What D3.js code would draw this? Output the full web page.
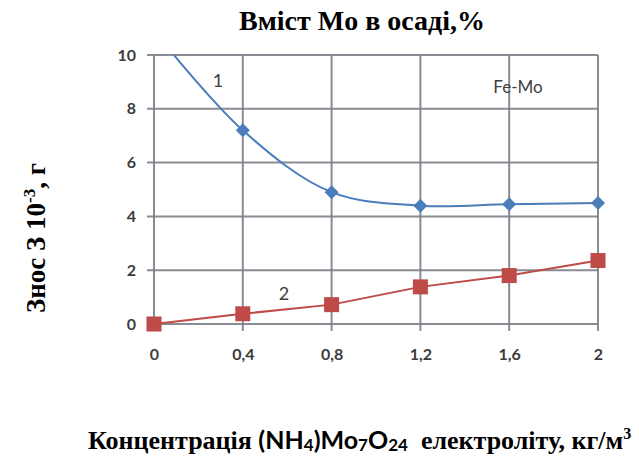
<!DOCTYPE html>
<html>
<head>
<meta charset="utf-8">
<script src="https://cdn.jsdelivr.net/npm/d3@7"></script>
<style>
  body { margin: 0; background: #fff; }
  svg { display: block; }
</style>
</head>
<body>
<svg id="chart" width="639" height="461"></svg>
<script>
// Concentration of (NH4)Mo7O24 in the electrolyte, kg/m3
const concentration = [0, 0.4, 0.8, 1.2, 1.6, 2];
// Curve 1: Fe-Mo wear, 10^-3 g
const wear1 = [10.9, 7.2, 4.9, 4.4, 4.45, 4.5];
// Curve 2: Mo content in the deposit, %
const wear2 = [0, 0.38, 0.72, 1.38, 1.8, 2.36];
const xTicks = [0, 0.4, 0.8, 1.2, 1.6, 2];
const yTicks = [0, 2, 4, 6, 8, 10];

(function () {
const svg = d3.select("#chart");
const pLeft = 154, pRight = 598, pTop = 55, pBottom = 324;
const sans = "Lato, Carlito, 'Open Sans', sans-serif";
const serif = "'Liberation Serif', 'Times New Roman', serif";
const gridColor = "#7c7f86";

const x = d3.scaleLinear().domain([0, 2]).range([pLeft, pRight]);
const y = d3.scaleLinear().domain([0, 10]).range([pBottom, pTop]);
const fmt = d => String(d).replace(".", ",");

svg.append("defs").append("clipPath").attr("id", "plotClip")
  .append("rect").attr("x", pLeft - 12).attr("y", pTop)
  .attr("width", pRight - pLeft + 24).attr("height", pBottom - pTop + 12);

// gridlines with short outward ticks, drawn as one path per direction
const vPath = d3.path();
xTicks.forEach(t => { vPath.moveTo(x(t), pTop); vPath.lineTo(x(t), pBottom + 7); });
const hPath = d3.path();
yTicks.forEach(t => { hPath.moveTo(pLeft - 7, y(t)); hPath.lineTo(pRight, y(t)); });
svg.append("path").attr("d", vPath.toString())
  .attr("fill", "none").attr("stroke", gridColor).attr("stroke-width", 2).attr("opacity", 0.9);
svg.append("path").attr("d", hPath.toString())
  .attr("fill", "none").attr("stroke", gridColor).attr("stroke-width", 2).attr("opacity", 0.9);

// tick labels
const xAxis = svg.append("g").attr("transform", `translate(0,${pBottom})`)
  .call(d3.axisBottom(x).tickValues(xTicks).tickFormat(fmt).tickSize(0).tickPadding(25));
const yAxis = svg.append("g").attr("transform", `translate(${pLeft},0)`)
  .call(d3.axisLeft(y).tickValues(yTicks).tickFormat(d => d).tickSize(0).tickPadding(18));
[xAxis, yAxis].forEach(a => {
  a.select(".domain").remove();
  a.selectAll("text").attr("font-family", sans)
    .attr("font-size", 16).attr("font-weight", "bold").attr("fill", "#3c3c3c");
});

const plot = svg.append("g").attr("clip-path", "url(#plotClip)");

// curve 1 (smoothed)
const pts1 = concentration.map((c, i) => [c, wear1[i]]);
plot.append("path").datum(pts1)
  .attr("fill", "none").attr("stroke", "#4a7ebb").attr("stroke-width", 2)
  .attr("d", d3.line().x(d => x(d[0])).y(d => y(d[1])).curve(d3.curveCatmullRom.alpha(0.5)));
plot.selectAll(".dia").data(pts1.slice(1)).enter().append("path")
  .attr("class", "dia")
  .attr("transform", d => `translate(${x(d[0])},${y(d[1])})`)
  .attr("d", "M0,-7L7,0L0,7L-7,0Z").attr("fill", "#4a7ebb");

// curve 2
const pts2 = concentration.map((c, i) => [c, wear2[i]]);
plot.append("path").datum(pts2)
  .attr("fill", "none").attr("stroke", "#be4b48").attr("stroke-width", 2)
  .attr("d", d3.line().x(d => x(d[0])).y(d => y(d[1])));
plot.selectAll(".sq").data(pts2).enter().append("rect")
  .attr("class", "sq")
  .attr("x", d => x(d[0]) - 7.5).attr("y", d => y(d[1]) - 7.5)
  .attr("width", 15).attr("height", 15).attr("fill", "#be4b48");

// inline labels
const lab = svg.append("g").attr("font-family", sans).attr("fill", "#404040");
lab.append("text").attr("x", 218).attr("y", 87).attr("text-anchor", "middle").attr("font-size", 18).text("1");
lab.append("text").attr("x", 284).attr("y", 300).attr("text-anchor", "middle").attr("font-size", 18).text("2");
lab.append("text").attr("x", 518).attr("y", 93).attr("text-anchor", "middle").attr("font-size", 17).text("Fe-Mo");

// title
svg.append("text").attr("x", 362).attr("y", 30).attr("text-anchor", "middle")
  .attr("font-family", serif).attr("font-weight", "bold").attr("font-size", 28)
  .text("Вміст Mo в осаді,%");

// y title
const yt = svg.append("text").attr("transform", "translate(45,238) rotate(-90)").attr("text-anchor", "middle")
  .attr("font-family", serif).attr("font-weight", "bold").attr("font-size", 27);
yt.append("tspan").text("Знос З 10");
yt.append("tspan").attr("font-size", 17).attr("dy", -10).text("-3");
yt.append("tspan").attr("dy", 10).text(", г");

// x title
const xt = svg.append("text").attr("x", 88).attr("y", 449)
  .attr("font-family", serif).attr("font-weight", "bold").attr("font-size", 26);
xt.append("tspan").text("Концентрація ");
xt.append("tspan").attr("font-family", sans).attr("font-size", 25).text("(NH");
xt.append("tspan").attr("font-family", sans).attr("font-size", 17).attr("dy", 2).text("4");
xt.append("tspan").attr("font-family", sans).attr("font-size", 25).attr("dy", -2).text(")Mo");
xt.append("tspan").attr("font-family", sans).attr("font-size", 17).attr("dy", 2).text("7");
xt.append("tspan").attr("font-family", sans).attr("font-size", 25).attr("dy", -2).text("O");
xt.append("tspan").attr("font-family", sans).attr("font-size", 17).attr("dy", 2).text("24");
xt.append("tspan").attr("dy", -2).attr("xml:space", "preserve").text("  електроліту, кг/м");
xt.append("tspan").attr("font-size", 16).attr("dy", -10).text("3");
})();
</script>
</body>
</html>
